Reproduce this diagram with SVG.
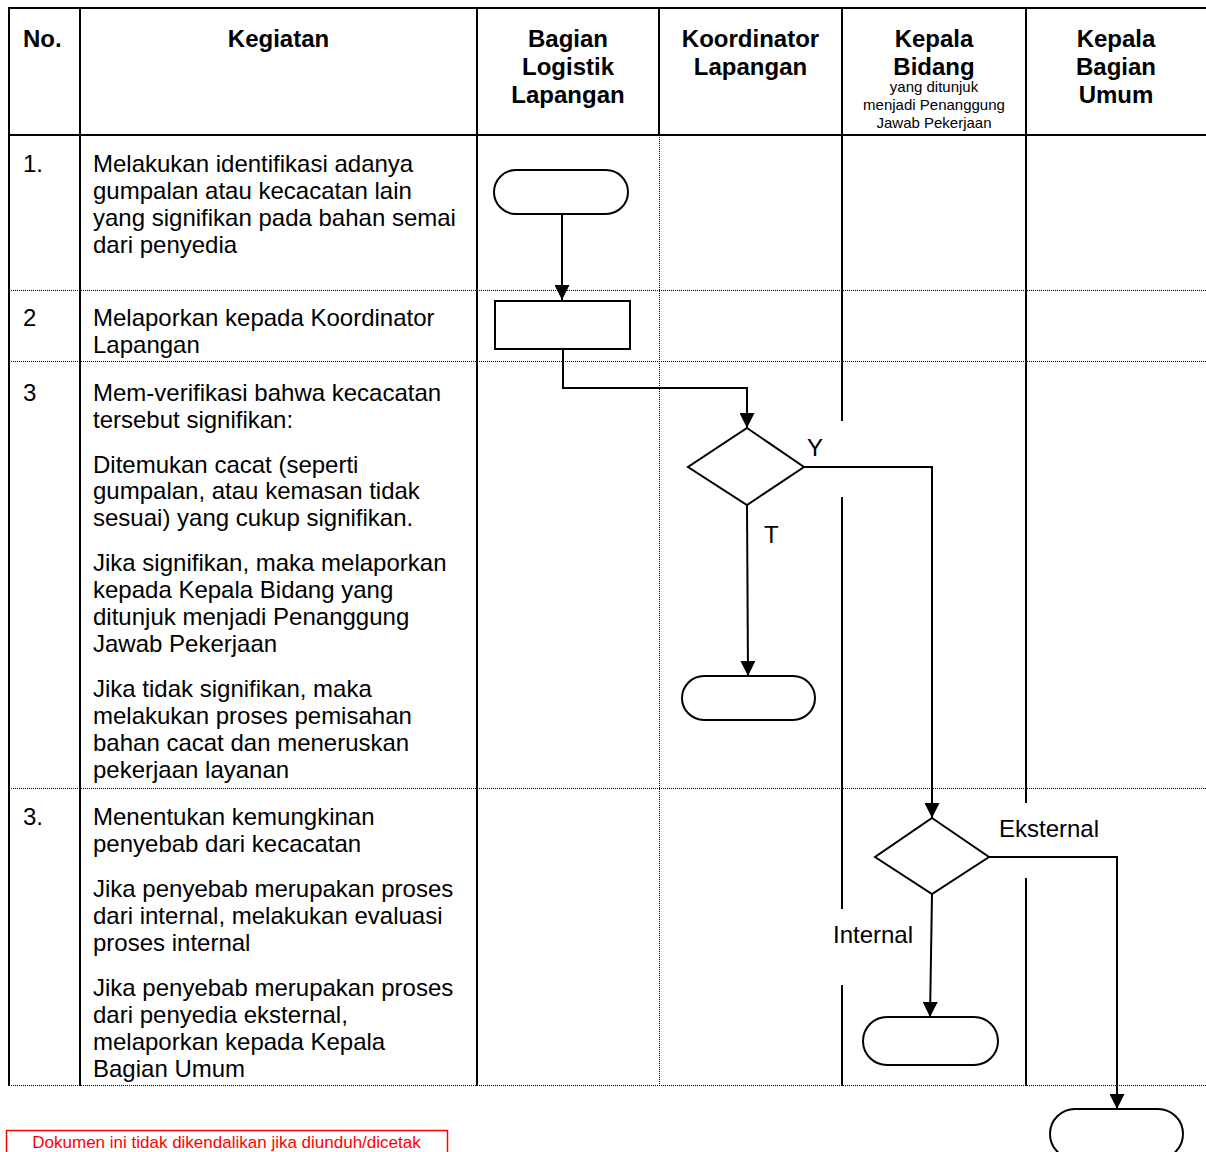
<svg xmlns="http://www.w3.org/2000/svg" width="1206" height="1152" viewBox="0 0 1206 1152">
<style>
text{font-family:"Liberation Sans",Arial,Helvetica,sans-serif;fill:#000}
.h{font-size:24px;font-weight:bold;text-anchor:middle}
.hs{font-size:15px;text-anchor:middle}
.b{font-size:24px}
.lbl{font-size:24px}
.grid{stroke:#000;stroke-width:2;fill:none}
.dot{stroke:#000;stroke-width:1;stroke-dasharray:1 1;fill:none}
.shape{fill:#fff;stroke:#000;stroke-width:2}
.conn{fill:none;stroke:#000;stroke-width:2;marker-end:url(#arr)}
.note{font-size:17px;fill:#ff0000;text-anchor:middle}
</style>
<defs>
<marker id="arr" markerUnits="userSpaceOnUse" markerWidth="15" markerHeight="15" refX="15" refY="7.5" orient="auto">
<path d="M0,0 L15,7.5 L0,15 Z" fill="#000"/>
</marker>
</defs>
<rect width="1206" height="1152" fill="#fff"/>
<g id="table">
<line class="grid" x1="8" y1="8" x2="1206" y2="8"/>
<line class="grid" x1="8" y1="135" x2="1206" y2="135"/>
<line class="dot" x1="9" y1="290.5" x2="1206" y2="290.5"/>
<line class="dot" x1="9" y1="361.5" x2="1206" y2="361.5"/>
<line class="dot" x1="9" y1="788.5" x2="1206" y2="788.5"/>
<line class="dot" x1="9" y1="1085.5" x2="1206" y2="1085.5"/>
<line class="grid" x1="9" y1="7" x2="9" y2="1086"/>
<line class="grid" x1="80" y1="7" x2="80" y2="1086"/>
<line class="grid" x1="477" y1="7" x2="477" y2="1086"/>
<line class="grid" x1="659" y1="7" x2="659" y2="135"/>
<line class="dot" x1="659.5" y1="135" x2="659.5" y2="1086"/>
<line class="grid" x1="842" y1="7" x2="842" y2="421"/>
<line class="grid" x1="842" y1="497" x2="842" y2="909"/>
<line class="grid" x1="842" y1="985" x2="842" y2="1086"/>
<line class="grid" x1="1026" y1="7" x2="1026" y2="803"/>
<line class="grid" x1="1026" y1="878" x2="1026" y2="1086"/>
</g>
<g id="header">
<text class="h" x="23" y="47" style="text-anchor:start">No.</text>
<text class="h" x="278.5" y="47">Kegiatan</text>
<text class="h" x="568" y="47">Bagian</text>
<text class="h" x="568" y="75">Logistik</text>
<text class="h" x="568" y="103">Lapangan</text>
<text class="h" x="750.5" y="47">Koordinator</text>
<text class="h" x="750.5" y="75">Lapangan</text>
<text class="h" x="934" y="47">Kepala</text>
<text class="h" x="934" y="75">Bidang</text>
<text class="hs" x="934" y="92">yang ditunjuk</text>
<text class="hs" x="934" y="110">menjadi Penanggung</text>
<text class="hs" x="934" y="128">Jawab Pekerjaan</text>
<text class="h" x="1116" y="47">Kepala</text>
<text class="h" x="1116" y="75">Bagian</text>
<text class="h" x="1116" y="103">Umum</text>
</g>
<g id="activities">
<text class="b" x="23" y="172">1.</text>
<text class="b" x="93" y="172">Melakukan identifikasi adanya</text>
<text class="b" x="93" y="199">gumpalan atau kecacatan lain</text>
<text class="b" x="93" y="226">yang signifikan pada bahan semai</text>
<text class="b" x="93" y="253">dari penyedia</text>
<text class="b" x="23" y="326">2</text>
<text class="b" x="93" y="326">Melaporkan kepada Koordinator</text>
<text class="b" x="93" y="353">Lapangan</text>
<text class="b" x="23" y="401">3</text>
<text class="b" x="93" y="401">Mem-verifikasi bahwa kecacatan</text>
<text class="b" x="93" y="428">tersebut signifikan:</text>
<text class="b" x="93" y="473">Ditemukan cacat (seperti</text>
<text class="b" x="93" y="499">gumpalan, atau kemasan tidak</text>
<text class="b" x="93" y="526">sesuai) yang cukup signifikan.</text>
<text class="b" x="93" y="571">Jika signifikan, maka melaporkan</text>
<text class="b" x="93" y="598">kepada Kepala Bidang yang</text>
<text class="b" x="93" y="625">ditunjuk menjadi Penanggung</text>
<text class="b" x="93" y="652">Jawab Pekerjaan</text>
<text class="b" x="93" y="697">Jika tidak signifikan, maka</text>
<text class="b" x="93" y="724">melakukan proses pemisahan</text>
<text class="b" x="93" y="751">bahan cacat dan meneruskan</text>
<text class="b" x="93" y="778">pekerjaan layanan</text>
<text class="b" x="23" y="825">3.</text>
<text class="b" x="93" y="825">Menentukan kemungkinan</text>
<text class="b" x="93" y="852">penyebab dari kecacatan</text>
<text class="b" x="93" y="897">Jika penyebab merupakan proses</text>
<text class="b" x="93" y="924">dari internal, melakukan evaluasi</text>
<text class="b" x="93" y="951">proses internal</text>
<text class="b" x="93" y="996">Jika penyebab merupakan proses</text>
<text class="b" x="93" y="1023">dari penyedia eksternal,</text>
<text class="b" x="93" y="1050">melaporkan kepada Kepala</text>
<text class="b" x="93" y="1077">Bagian Umum</text>
</g>
<g id="connectors">
<path class="conn" d="M562,214 V300"/>
<path class="conn" d="M563,349 V388 H747 V428"/>
<path class="conn" d="M747,505 L748,676"/>
<path class="conn" d="M804,467 H932 V818"/>
<path class="conn" d="M932,894 L930,1017"/>
<path class="conn" d="M989,857 H1117 V1109"/>
<text class="lbl" x="807" y="456">Y</text>
<text class="lbl" x="764" y="543">T</text>
<text class="lbl" x="999" y="837">Eksternal</text>
<text class="lbl" x="833" y="943">Internal</text>
</g>
<g id="n1"><rect class="shape" x="494" y="170" width="134" height="44" rx="22"/></g>
<g id="n2"><rect class="shape" x="495" y="301" width="135" height="48"/></g>
<g id="n3"><polygon class="shape" points="747,428 804,467 747,505 688,467"/></g>
<g id="n4"><rect class="shape" x="682" y="676" width="133" height="44" rx="22"/></g>
<g id="n5"><polygon class="shape" points="932,818 989,857 932,894 875,857"/></g>
<g id="n6"><rect class="shape" x="863" y="1017" width="135" height="48" rx="24"/></g>
<g id="n7"><rect class="shape" x="1050" y="1109" width="133" height="50" rx="25"/></g>
<g id="note">
<rect x="6.5" y="1130.5" width="441" height="40" fill="none" stroke="#ff0000" stroke-width="1.5"/>
<text class="note" x="226.5" y="1148">Dokumen ini tidak dikendalikan jika diunduh/dicetak</text>
</g>
</svg>
